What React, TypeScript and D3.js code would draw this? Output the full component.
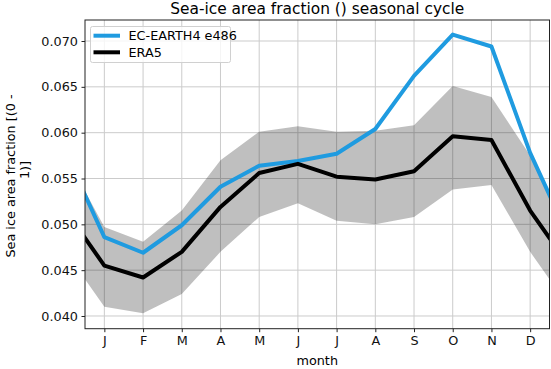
import React, {useEffect, useRef} from 'react';
import * as d3 from 'd3';

// Month tick labels
const months = ["J", "F", "M", "A", "M", "J", "J", "A", "S", "O", "N", "D"];

// Seasonal cycle, one value per month (Jan..Dec)
const ecEarth = [0.0486, 0.0469, 0.0499, 0.0541, 0.0564, 0.0569, 0.0577, 0.0604, 0.0662, 0.0707, 0.0694, 0.0578];
const era5 = [0.0455, 0.0442, 0.0470, 0.0519, 0.0556, 0.0566, 0.0552, 0.0549, 0.0558, 0.0596, 0.0592, 0.0515];
const era5Upper = [0.0497, 0.0481, 0.0515, 0.0570, 0.0601, 0.0607, 0.0601, 0.0602, 0.0608, 0.0651, 0.0639, 0.0575];
const era5Lower = [0.0410, 0.0403, 0.0424, 0.0470, 0.0508, 0.0523, 0.0504, 0.0500, 0.0508, 0.0538, 0.0543, 0.0470];

const yTicks = [0.040, 0.045, 0.050, 0.055, 0.060, 0.065, 0.070];

// the cycle is periodic: Dec is repeated before Jan and Jan after Dec
const wrap = (v: number[]) => [v[11], ...v, v[0]].map((y, i) => ({x: i, y}));

const App = () => {
    const ref = useRef<SVGSVGElement>(null);

    useEffect(() => {
        document.body.style.margin = "0";
        const width = 551;
        const height = 369;
        const m = {left: 85, right: 1.5, top: 20, bottom: 40.3};

        const x = d3.scaleLinear().domain([0.5, 12.5]).range([m.left, width - m.right]);
        const y = d3.scaleLinear().domain([0.040 - 12.7 * 0.005 / 45.8, 0.070 + 21 * 0.005 / 45.8])
            .range([height - m.bottom, m.top]);

        const svg = d3.select(ref.current);
        svg.selectAll("*").remove();
        svg.style("font-family", "'DejaVu Sans', sans-serif");

        svg.append("clipPath").attr("id", "plot-clip")
            .append("rect")
            .attr("x", m.left).attr("y", m.top)
            .attr("width", width - m.left - m.right).attr("height", height - m.top - m.bottom);

        // Grid
        const grid = svg.append("g").attr("stroke", "#cbcbcb").attr("stroke-width", 1);
        grid.selectAll("line.v").data(d3.range(1, 13)).join("line")
            .attr("x1", d => x(d)).attr("x2", d => x(d))
            .attr("y1", m.top).attr("y2", height - m.bottom);
        grid.selectAll("line.h").data(yTicks).join("line")
            .attr("x1", m.left).attr("x2", width - m.right)
            .attr("y1", d => y(d)).attr("y2", d => y(d));

        const plot = svg.append("g").attr("clip-path", "url(#plot-clip)");

        // ERA5 spread
        const band = wrap(era5Upper).map((d, i) => ({x: d.x, hi: d.y, lo: era5Lower[(i + 11) % 12]}));
        plot.append("path")
            .datum(band)
            .attr("fill", "#000")
            .attr("fill-opacity", 0.25)
            .attr("d", d3.area<any>().x(d => x(d.x)).y0(d => y(d.lo)).y1(d => y(d.hi)));

        const line = d3.line<any>().x(d => x(d.x)).y(d => y(d.y));
        plot.append("path").datum(wrap(ecEarth))
            .attr("fill", "none").attr("stroke", "#1f9be0").attr("stroke-width", 4)
            .attr("stroke-linejoin", "round").attr("d", line);
        plot.append("path").datum(wrap(era5))
            .attr("fill", "none").attr("stroke", "#000").attr("stroke-width", 4)
            .attr("stroke-linejoin", "round").attr("d", line);

        // Axes
        const xAxis = svg.append("g")
            .attr("transform", `translate(0,${height - m.bottom})`)
            .call(d3.axisBottom(x).tickValues(d3.range(1, 13)).tickFormat((d, i) => months[i]).tickSizeOuter(0).tickSize(3.5).tickPadding(3.5));
        const yAxis = svg.append("g")
            .attr("transform", `translate(${m.left},0)`)
            .call(d3.axisLeft(y).tickValues(yTicks).tickFormat(d3.format(".3f")).tickSizeOuter(0).tickSize(3.5).tickPadding(3.5));
        [xAxis, yAxis].forEach(a => {
            a.select(".domain").remove();
            a.selectAll("line").attr("stroke", "#222");
            a.selectAll("text").attr("font-size", 12.8).attr("font-family", "'DejaVu Sans', sans-serif").attr("fill", "#111");
        });

        // Spines
        svg.append("rect")
            .attr("x", m.left).attr("y", m.top)
            .attr("width", width - m.left - m.right).attr("height", height - m.top - m.bottom)
            .attr("fill", "none").attr("stroke", "#222").attr("stroke-width", 1);

        // Title and labels
        svg.append("text")
            .attr("x", (m.left + width - m.right) / 2).attr("y", 14)
            .attr("text-anchor", "middle").attr("font-size", 15.4)
            .text("Sea-ice area fraction () seasonal cycle");
        svg.append("text")
            .attr("x", (m.left + width - m.right) / 2).attr("y", 365)
            .attr("text-anchor", "middle").attr("font-size", 12.8)
            .text("month");
        svg.append("text")
            .attr("transform", "translate(15,176) rotate(-90)")
            .attr("text-anchor", "middle").attr("font-size", 12.8)
            .text("Sea ice area fraction [(0 -");
        svg.append("text")
            .attr("transform", "translate(29,170) rotate(-90)")
            .attr("text-anchor", "middle").attr("font-size", 12.8)
            .text("1)]");

        // Legend
        const lg = svg.append("g");
        lg.append("rect")
            .attr("x", 90.5).attr("y", 26.5).attr("width", 140).attr("height", 36).attr("rx", 2)
            .attr("fill", "#fff").attr("fill-opacity", 0.8).attr("stroke", "#d0d0d0");
        const items = [{name: "EC-EARTH4 e486", color: "#1f9be0"}, {name: "ERA5", color: "#000"}];
        items.forEach((it, i) => {
            const ly = 35.7 + i * 16.6;
            lg.append("line").attr("x1", 93.5).attr("x2", 120).attr("y1", ly).attr("y2", ly)
                .attr("stroke", it.color).attr("stroke-width", 4);
            lg.append("text").attr("x", 128.5).attr("y", ly + 4.6).attr("font-size", 12.8).text(it.name);
        });
    }, []);

    return <svg ref={ref} width={551} height={369} style={{display: "block"}}></svg>;
};

export default App;
